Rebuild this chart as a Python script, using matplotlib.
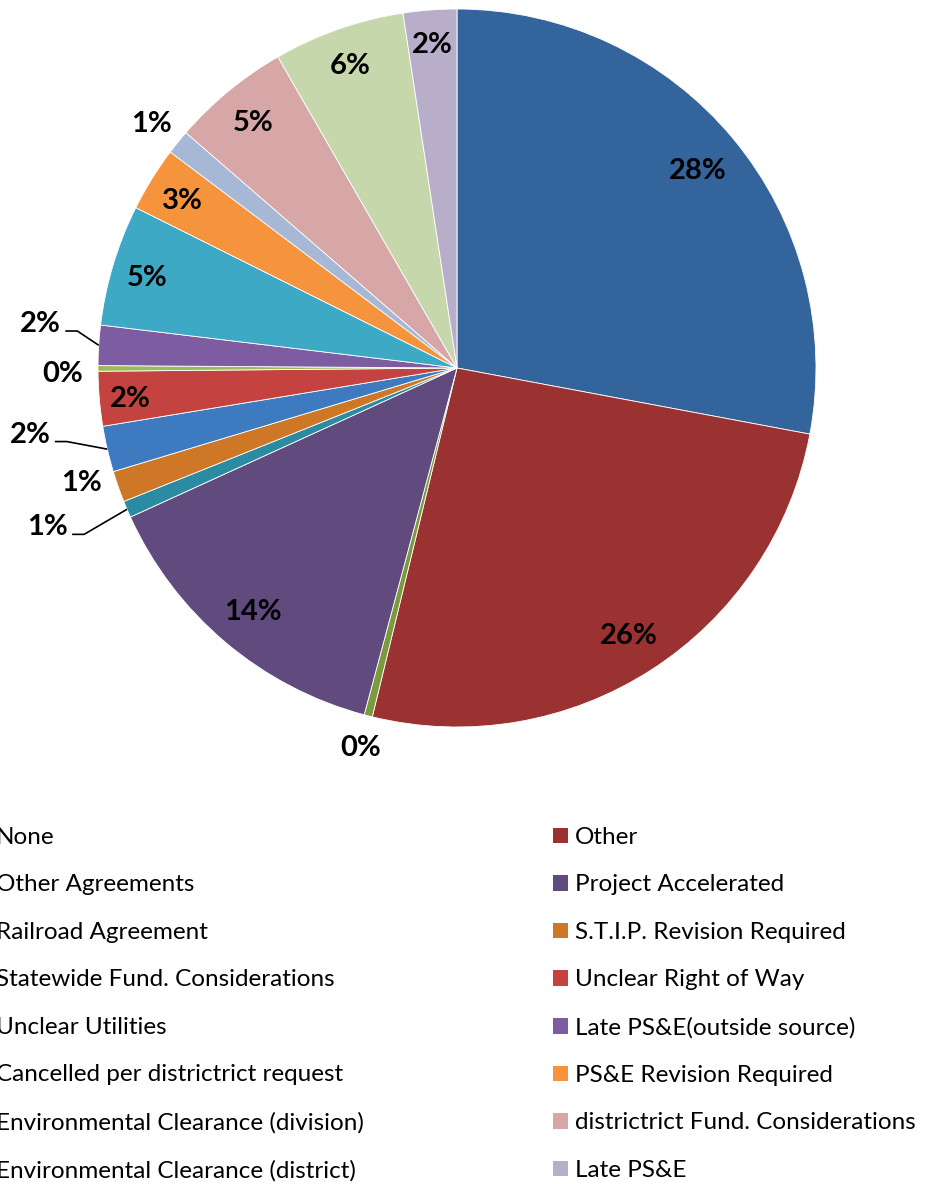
import matplotlib
matplotlib.use("Agg")
import matplotlib.pyplot as plt
from matplotlib.patches import Patch
import numpy as np

categories = [
    "None", "Other", "Other Agreements", "Project Accelerated",
    "Railroad Agreement", "S.T.I.P. Revision Required",
    "Statewide Fund. Considerations", "Unclear Right of Way",
    "Unclear Utilities", "Late PS&E(outside source)",
    "Cancelled per districtrict request", "PS&E Revision Required",
    "Environmental Clearance (division)", "districtrict Fund. Considerations",
    "Environmental Clearance (district)", "Late PS&E",
]
values = [27.9, 25.8, 0.37, 14.0, 0.75, 1.4, 2.06, 2.45,
          0.25, 1.8, 5.45, 2.9, 1.1, 5.3, 5.9, 2.4]

colors = ["#33649C", "#9A3232", "#7A9A3E", "#604A7E", "#2A8BA3", "#CE7726",
          "#3D7ABF", "#C44341", "#9BBB59", "#7E5CA2", "#3DA9C5", "#F5943D",
          "#A6B8D6", "#D7A6A6", "#C6D7AC", "#B8AECA"]

# label layout (style): radial distance and angular tweak, leader flag
label_r = [0.873, 0.88, 1.084, 0.88, 1.222, 1.092, 1.203, 0.914,
           1.098, 1.168, 0.90, 0.90, 1.094, 0.895, 0.90, 0.91]
label_dth = [0, 0, 0, 0, -2.3, -2.7, -4.6, 0, 0.4, -2.8, 0, 0, 0, 0, 0, 0]
leader = [False, False, False, False, True, False, True, False,
          False, True, False, False, False, False, False, False]

W, H = 926, 1184
cx, cy, R = 457, 368, 359
fig = plt.figure(figsize=(W / 100, H / 100), dpi=100)
ax = fig.add_axes([(cx - R) / W, (H - cy - R) / H, 2 * R / W, 2 * R / H])

wedges, _ = ax.pie(values, colors=colors, startangle=90, counterclock=False,
                   radius=1, wedgeprops=dict(edgecolor="white", linewidth=0.6))
ax.set_xlim(-1, 1)
ax.set_ylim(-1, 1)
ax.set_aspect("equal")
ax.axis("off")

FONT = "Lato"
px = 1.0 / R  # one pixel in data units
total = sum(values)
for i, w in enumerate(wedges):
    mid = np.deg2rad((w.theta1 + w.theta2) / 2)
    ang = mid + np.deg2rad(label_dth[i])
    lx, ly = label_r[i] * np.cos(ang), label_r[i] * np.sin(ang)
    pct = values[i] / total * 100
    ax.text(lx, ly - 3 * px, f"{round(pct):d}%", ha="center", va="center",
            fontsize=21, fontweight="bold", family=FONT, color="black",
            clip_on=False)
    if leader[i]:
        ex, ey = np.cos(mid), np.sin(mid)
        kx, ky = lx + 37 * px, ly - 10 * px
        sx = lx + 25 * px
        ax.plot([sx, kx, ex], [ky, ky, ey], color="black", lw=1.2,
                clip_on=False, solid_capstyle="butt")

fs = 17.5
fpx = fs * 100 / 72
handles = [Patch(facecolor=c, edgecolor="none") for c in colors]
common = dict(loc="upper left", frameon=False,
              prop={"family": FONT, "size": fs},
              handlelength=15 / fpx, handleheight=15 / fpx,
              handletextpad=7 / fpx, labelspacing=1.09,
              borderpad=0, borderaxespad=0)
left_idx = list(range(0, 16, 2))
right_idx = list(range(1, 16, 2))
leg1 = fig.legend([handles[i] for i in left_idx],
                  [categories[i] for i in left_idx],
                  bbox_to_anchor=(-26 / W, 1 - 827 / H), **common)
leg2 = fig.legend([handles[i] for i in right_idx],
                  [categories[i] for i in right_idx],
                  bbox_to_anchor=(553 / W, 1 - 827 / H), **common)

fig.savefig("out.png", dpi=100, facecolor="white")
